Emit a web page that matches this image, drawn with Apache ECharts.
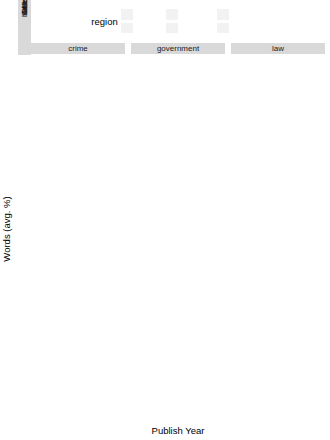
<!DOCTYPE html>
<html>
<head>
<meta charset="utf-8">
<script src="https://cdn.jsdelivr.net/npm/echarts@6/dist/echarts.min.js"></script>
<style>
html,body{margin:0;padding:0;background:#fff}
#wrap{position:relative;width:330px;height:440px;font-family:'Liberation Sans',Arial,sans-serif}
#chart{position:absolute;left:0;top:0;width:330px;height:440px;z-index:1}
.box{position:absolute;z-index:0}
.lbl{position:absolute;z-index:2;white-space:nowrap;line-height:1;transform:translate(-50%,-50%)}
.rot{transform:translate(-50%,-50%) rotate(-90deg)}
</style>
</head>
<body>
<div id="wrap"><div id="chart"></div></div>
<script>
// years / facets / regions
var years = [2010, 2011, 2012, 2013, 2014, 2015, 2016, 2017, 2018];
var facets = ['crime', 'government', 'law'];
var regions = ['Africa', 'Brit. Ils.', 'Ind. subc.', 'Oceania', 'S.E. Asia', 'America'];
var colors = ['#66C2A5', '#FC8D62', '#8DA0CB', '#E78AC3', '#A6D854', '#FFD92F'];
var xTicks = [2010, 2012, 2014, 2016, 2018];
var xMinor = [2011, 2013, 2015, 2017];
var yTicks = [0, 1, 2];
var yMinor = [0.5, 1.5, 2.5];

// mean per year, one row per facet (crime, government, law)
var africaMean = [
    [null, 0.31, 0.41, 1.06, 1.05, 1.05, 1.33, 1.26, 1.13],
    [null, 0.24, 0.46, 0.55, 0.74, 0.74, 1.11, 1.11, 1.22],
    [null, 0.24, 0.46, 0.65, 0.78, 0.78, 1.07, 1.02, 1.07]];
var africaSe = [
    [null, 0.08, 0.14, 0.21, 0.08, 0.05, 0.04, 0.04, 0.04],
    [null, 0.07, 0.06, 0.06, 0.05, 0.05, 0.05, 0.04, 0.04],
    [null, 0.05, 0.08, 0.06, 0.05, 0.05, 0.05, 0.04, 0.04]];
var britMean = [
    [null, 1.07, 0.19, 0.39, 0.76, 0.93, 0.93, 1.13, 1.59],
    [null, 1.81, 0.33, 0.46, 0.70, 0.80, 0.67, 0.93, 0.89],
    [null, 1.63, 0.24, 0.57, 0.67, 0.80, 0.70, 0.89, 1.07]];
var britSe = [
    [null, 0.69, 0.05, 0.09, 0.06, 0.06, 0.05, 0.05, 0.05],
    [null, 1.0, 0.09, 0.1, 0.05, 0.05, 0.04, 0.05, 0.05],
    [null, 0.9, 0.05, 0.1, 0.05, 0.05, 0.05, 0.05, 0.05]];
var indMean = [
    [0.24, 0.27, 0.42, 0.51, 1.15, 1.55, 1.75, 1.75, 1.91],
    [0.02, 0.48, 0.60, 0.60, 0.93, 1.05, 1.36, 1.55, 1.45],
    [0.29, 0.75, 0.74, 0.55, 0.93, 1.13, 1.42, 1.54, 1.45]];
var indSe = [
    [0.18, 0.08, 0.1, 0.08, 0.1, 0.06, 0.05, 0.05, 0.04],
    [0.03, 0.1, 0.1, 0.1, 0.06, 0.05, 0.05, 0.05, 0.05],
    [0.1, 0.1, 0.1, 0.06, 0.06, 0.05, 0.05, 0.05, 0.05]];
var oceaniaMean = [
    [0.0, 0.15, 0.37, 0.65, 0.46, 0.65, 0.93, 1.07, 1.33],
    [0.0, 0.13, 0.15, 1.39, 0.61, 0.96, 1.11, 1.15, 1.35],
    [0.19, 0.56, 0.15, 1.02, 0.69, 0.87, 0.93, 1.0, 1.33]];
var oceaniaSe = [
    [0.0, 0.1, 0.12, 0.18, 0.08, 0.1, 0.05, 0.05, 0.08],
    [0.0, 0.1, 0.05, 0.46, 0.08, 0.07, 0.05, 0.05, 0.06],
    [0.0, 0.55, 0.08, 0.38, 0.08, 0.08, 0.05, 0.04, 0.05]];
var seasiaMean = [
    [null, 0.0, 0.93, 0.37, 0.87, 1.30, 1.46, 1.83, 1.57],
    [null, 0.28, 0.33, 0.59, 0.70, 1.07, 1.35, 1.35, 1.50],
    [null, 0.28, 0.52, 0.56, 0.65, 1.07, 1.30, 1.44, 1.30]];
var seasiaSe = [
    [null, 0.03, 0.6, 0.1, 0.15, 0.1, 0.05, 0.05, 0.05],
    [null, 0.3, 0.1, 0.15, 0.05, 0.05, 0.04, 0.04, 0.05],
    [null, 0.28, 0.15, 0.1, 0.05, 0.05, 0.04, 0.04, 0.05]];
var americaMean = [
    [0.74, 0.04, 0.30, 0.56, 0.43, 0.78, 1.26, 1.13, 1.63],
    [0.0, 0.56, 0.56, 0.70, 0.70, 1.04, 1.30, 1.35, 1.48],
    [0.0, 0.33, 0.30, 0.67, 0.52, 0.85, 1.13, 1.13, 1.41]];
var americaSe = [
    [0.03, 0.05, 0.06, 0.1, 0.06, 0.08, 0.08, 0.06, 0.08],
    [0.0, 0.35, 0.08, 0.1, 0.05, 0.06, 0.05, 0.05, 0.06],
    [0.0, 0.12, 0.05, 0.12, 0.05, 0.06, 0.06, 0.05, 0.06]];

var means = [africaMean, britMean, indMean, oceaniaMean, seasiaMean, americaMean];
var ses = [africaSe, britSe, indSe, oceaniaSe, seasiaSe, americaSe];

var font = 'Liberation Sans, Arial, sans-serif';
var colLeft = [31, 131, 231], panelW = 94;
var rowTop0 = 54, rowStep = 58.8, panelH = 55;

function renderBar(params, api) {
    var x = api.value(0);
    var lo = api.coord([x, api.value(1)]);
    var hi = api.coord([x, api.value(2)]);
    var hw = api.size([0.25, 0])[0];
    var st = {stroke: api.visual('color'), lineWidth: 0.9, fill: null};
    return {type: 'group', children: [
        {type: 'line', shape: {x1: lo[0], y1: lo[1], x2: hi[0], y2: hi[1]}, style: st},
        {type: 'line', shape: {x1: lo[0] - hw, y1: lo[1], x2: lo[0] + hw, y2: lo[1]}, style: st},
        {type: 'line', shape: {x1: hi[0] - hw, y1: hi[1], x2: hi[0] + hw, y2: hi[1]}, style: st}
    ]};
}

// strips, titles, legend key boxes as plain html around the canvas
var wrap = document.getElementById('wrap');
function box(x, y, w, h, fill) {
    var d = document.createElement('div');
    d.className = 'box';
    d.style.cssText = 'left:' + x + 'px;top:' + y + 'px;width:' + w + 'px;height:' + h + 'px;background:' + fill;
    wrap.appendChild(d);
}
function label(text, x, y, size, color, rot) {
    var d = document.createElement('div');
    d.className = rot ? 'lbl rot' : 'lbl';
    d.style.cssText = 'left:' + x + 'px;top:' + y + 'px;font-size:' + size + 'px;color:' + color;
    d.textContent = text;
    wrap.appendChild(d);
}

var grids = [], xAxes = [], yAxes = [], series = [];

for (var r = 0; r < regions.length; r++) {
    var top = rowTop0 + r * rowStep;
    box(18, top, 13, panelH, '#D9D9D9');
    label(regions[r], 24.5, top + panelH / 2, 8, '#1A1A1A', true);
    for (var c = 0; c < facets.length; c++) {
        var idx = r * 3 + c;
        grids.push({left: colLeft[c], top: top, width: panelW, height: panelH,
            show: true, backgroundColor: '#EBEBEB', borderWidth: 0});
        xAxes.push({gridIndex: idx, type: 'value', min: 2009.325, max: 2018.675, splitNumber: 5,
            axisLine: {show: false},
            axisTick: {show: r === 5, length: 3, lineStyle: {color: '#333', width: 0.8}, customValues: xTicks.slice()},
            axisLabel: {show: r === 5, customValues: xTicks.slice(), rotate: -45, fontSize: 7.5, color: '#4D4D4D',
                margin: 3, fontFamily: font},
            splitLine: {show: true, showMinLine: false, showMaxLine: false, lineStyle: {color: '#fff', width: 1}}
        });
        yAxes.push({gridIndex: idx, type: 'value', min: -0.17, max: 2.95, splitNumber: 3, offset: 13,
            axisLine: {show: false},
            axisTick: {show: c === 0, length: 2.5, lineStyle: {color: '#333', width: 0.8}, customValues: yTicks.slice()},
            axisLabel: {show: c === 0, customValues: yTicks.slice(), fontSize: 7.5, color: '#4D4D4D', margin: 2,
                fontFamily: font},
            splitLine: {show: true, showMinLine: false, showMaxLine: false, lineStyle: {color: '#fff', width: 1}}
        });

        var pts = [], bars = [];
        for (var i = 0; i < years.length; i++) {
            var m = means[r][c][i];
            if (m == null) continue;
            var s = ses[r][c][i];
            pts.push([years[i], m]);
            if (s > 0) bars.push([years[i], m - s, m + s]);
        }
        // minor grid lines
        var ml = [];
        xMinor.forEach(function (v) { ml.push({xAxis: v}); });
        yMinor.forEach(function (v) { ml.push({yAxis: v}); });
        series.push({type: 'line', xAxisIndex: idx, yAxisIndex: idx, data: [], silent: true, z: 1,
            markLine: {silent: true, symbol: 'none', animation: false, label: {show: false},
                lineStyle: {color: '#fff', width: 0.5, type: 'solid'}, data: ml}});
        series.push({type: 'custom', xAxisIndex: idx, yAxisIndex: idx, data: bars, z: 6,
            encode: {x: 0, y: [1, 2]}, itemStyle: {color: colors[r]}, renderItem: renderBar, silent: true});
        series.push({type: 'line', name: regions[r], xAxisIndex: idx, yAxisIndex: idx, data: pts, z: 7,
            symbol: 'circle', symbolSize: 4.5, showSymbol: true, silent: true,
            lineStyle: {width: 1, color: colors[r]}, itemStyle: {color: colors[r]}});
    }
}

for (var c2 = 0; c2 < facets.length; c2++) {
    box(colLeft[c2], 43, panelW, 10.5, '#D9D9D9');
    label(facets[c2], colLeft[c2] + panelW / 2, 48.5, 8, '#1A1A1A', false);
}
label('Publish Year', 178, 431, 9.5, '#000', false);
label('Words (avg. %)', 7, 229, 9.5, '#000', true);
label('region', 104.5, 21.5, 9.5, '#000', false);
var keyX = [120.7, 165.7, 217];
for (var k = 0; k < 6; k++) {
    box(keyX[Math.floor(k / 2)], 9.3 + (k % 2) * 13.4, 12, 10.7, '#F2F2F2');
}

var legends = [];
for (var g = 0; g < 3; g++) {
    legends.push({orient: 'vertical', left: keyX[g], top: 9.3, padding: 0, itemWidth: 12, itemHeight: 10.7,
        itemGap: 2.7, selectedMode: false, data: [regions[g * 2], regions[g * 2 + 1]],
        textStyle: {fontSize: 8.5, color: '#1A1A1A', fontFamily: font}});
}

var chart = echarts.init(document.getElementById('chart'));
try {
    chart.setOption({
        animation: false,
        legend: legends,
        grid: grids,
        xAxis: xAxes,
        yAxis: yAxes,
        series: series
    });
} catch (e) {
    console.log(e);
}
var zr = chart.getZr();
try {
    zr.refreshImmediately();
    if (zr.animation) zr.animation.stop();
} catch (e) {
    console.log(e);
}
</script>
</body>
</html>
